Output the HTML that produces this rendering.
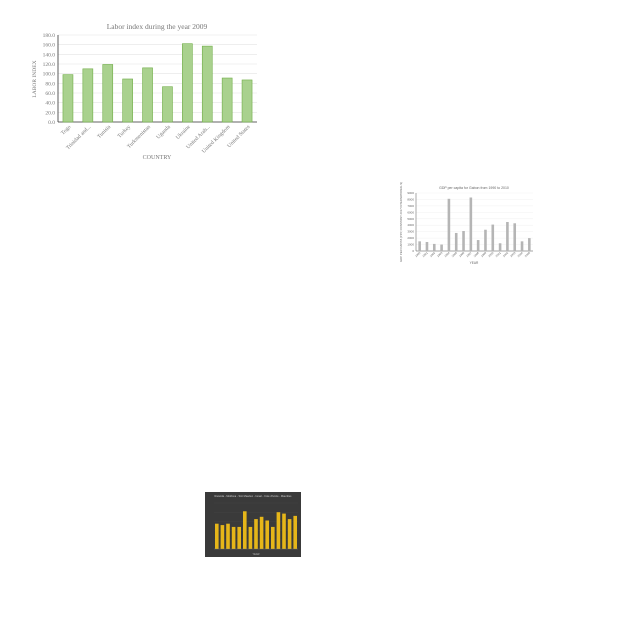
<!DOCTYPE html>
<html><head><meta charset="utf-8"><style>body{margin:0;background:#fff}svg{display:block}</style></head>
<body>
<svg id="s" width="640" height="640" xmlns="http://www.w3.org/2000/svg" font-family="Liberation Serif, serif">
<g id="c1"></g>
<g id="c2"></g>
<g id="c3"></g>
</svg>
<script>
const laborCountries=["Togo","Trinidad and...","Tunisia","Turkey","Turkmenistan","Uganda","Ukraine","United Arab...","United Kingdom","United States"];
const laborValues=[98,110,119,89,112,73,162,157,91,87];
const laborTicks=[0,20,40,60,80,100,120,140,160,180];
const gdpYears=["1990","1991","1992","1993","1994","1995","1996","1997","1998","1999","2000","2001","2002","2003","2004","2005"];
const gdpValues=[1500,1400,1100,1000,8100,2800,3100,8300,1700,3300,4100,1200,4500,4300,1500,2000];
const gdpTicks=[0,1000,2000,3000,4000,5000,6000,7000,8000,9000];
const yellowValues=[0.55,0.52,0.55,0.48,0.48,0.82,0.48,0.65,0.70,0.62,0.48,0.80,0.77,0.65,0.72];
const yellowTicks=[0,0.2,0.4,0.6,0.8,1.0];
const NS="http://www.w3.org/2000/svg";
function mk(p,t,a,txt){const e=document.createElementNS(NS,t);for(const k in a)e.setAttribute(k,a[k]);if(txt!==undefined)e.textContent=txt;p.appendChild(e);return e;}

// Chart 1
(function(){
const g=document.getElementById('c1');
const x0=58,x1=257,yTop=35,yBot=122,max=180;
const y=v=>yBot-(v/max)*(yBot-yTop);
const bw=(x1-x0)/laborValues.length;
let t=mk(g,'text',{x:157,y:29,'font-size':7.5,fill:'#777','text-anchor':'middle'},'Labor index during the year 2009');


laborTicks.forEach(v=>{
 let l=mk(g,'line',{x1:x0,x2:x1,y1:y(v),y2:y(v),stroke:'#e4e4e4','stroke-width':0.6});
 
 
 let tt=mk(g,'text',{x:x0-3,y:y(v)+2,'font-size':5.5,fill:'#777','text-anchor':'end'},v.toFixed(1));
 
 
});
mk(g,'line',{x1:x0,x2:x0,y1:yTop,y2:yBot,stroke:'#333','stroke-width':0.8});
mk(g,'line',{x1:x0,x2:x1,y1:yBot,y2:yBot,stroke:'#333','stroke-width':0.8});
laborValues.forEach((v,i)=>{
 const cx=x0+bw*(i+0.5);
 let r=mk(g,'rect',{x:cx-5,y:y(v),width:10,height:yBot-y(v),fill:'#a9d18e',stroke:'#70ad47','stroke-width':0.6});
 
 
 let lt=mk(g,'text',{x:cx+3,y:yBot+5,'font-size':5.5,fill:'#777','text-anchor':'end',transform:`rotate(-45 ${cx+3} ${yBot+5})`},laborCountries[i]);
 
 
});
let xa=mk(g,'text',{x:157,y:159,'font-size':6,fill:'#777','text-anchor':'middle'},'COUNTRY');


let ya=mk(g,'text',{x:36,y:79,'font-size':5.5,fill:'#777','text-anchor':'middle',transform:'rotate(-90 36 79)'},'LABOR INDEX');


})();

// Chart 2
(function(){
const g=document.getElementById('c2');
const x0=416,x1=533,yTop=193,yBot=251,max=9000;
const y=v=>yBot-(v/max)*(yBot-yTop);
const bw=(x1-x0)/gdpValues.length;
let t=mk(g,'text',{x:474,y:189,'font-size':3.5,fill:'#666','text-anchor':'middle','font-family':'Liberation Sans, sans-serif'},'GDP per capita for Gabon from 1990 to 2010');


gdpTicks.forEach(v=>{
 let l=mk(g,'line',{x1:x0,x2:x1,y1:y(v),y2:y(v),stroke:'#eee','stroke-width':0.4});
 
 
 let tt=mk(g,'text',{x:x0-2,y:y(v)+1,'font-size':3,fill:'#666','text-anchor':'end','font-family':'Liberation Sans, sans-serif'},v);
 
 
});
mk(g,'line',{x1:x0,x2:x0,y1:yTop,y2:yBot,stroke:'#555','stroke-width':0.5});
mk(g,'line',{x1:x0,x2:x1,y1:yBot,y2:yBot,stroke:'#555','stroke-width':0.5});
gdpValues.forEach((v,i)=>{
 const cx=x0+bw*(i+0.5);
 let r=mk(g,'rect',{x:cx-1.3,y:y(v),width:2.6,height:yBot-y(v),fill:'#b5b5b5'});
 
 
 let lt=mk(g,'text',{x:cx+1,y:yBot+2,'font-size':2.8,fill:'#666','text-anchor':'end','font-family':'Liberation Sans, sans-serif',transform:`rotate(-45 ${cx+1} ${yBot+2})`},gdpYears[i]);
 
 
});
let xa=mk(g,'text',{x:474,y:264,'font-size':3.2,fill:'#666','text-anchor':'middle','font-family':'Liberation Sans, sans-serif'},'YEAR');


let ya=mk(g,'text',{x:402,y:222,'font-size':2.8,fill:'#666','text-anchor':'middle','font-family':'Liberation Sans, sans-serif',transform:'rotate(-90 402 222)'},'GDP PER CAPITA (PPP, CONSTANT 2017 INTERNATIONAL $)');


})();

// Chart 3
(function(){
const g=document.getElementById('c3');
let bg=mk(g,'rect',{x:205,y:492,width:96,height:65,fill:'#3a3a3a'});


const x0=214,x1=298,yTop=503,yBot=549,max=1.0;
const y=v=>yBot-(v/max)*(yBot-yTop);
const bw=(x1-x0)/yellowValues.length;
let t=mk(g,'text',{x:253,y:497,'font-size':2.6,fill:'#ccc','text-anchor':'middle','font-family':'Liberation Sans, sans-serif'},'Rwanda - Moldova - Sint Maarten - Israel - Cote d\'Ivoire - Mauritius');


yellowTicks.forEach(v=>{
 let l=mk(g,'line',{x1:x0,x2:x1,y1:y(v),y2:y(v),stroke:'#4a4a4a','stroke-width':0.3});
 
 
});
yellowValues.forEach((v,i)=>{
 const cx=x0+bw*(i+0.5);
 let r=mk(g,'rect',{x:cx-1.8,y:y(v),width:3.6,height:yBot-y(v),fill:'#e6b619'});
 
 
});
mk(g,'line',{x1:x0,x2:x1,y1:yBot,y2:yBot,stroke:'#777','stroke-width':0.4});
let xa=mk(g,'text',{x:256,y:555,'font-size':2.6,fill:'#bbb','text-anchor':'middle','font-family':'Liberation Sans, sans-serif'},'YEAR');


})();
</script>
</body></html>
